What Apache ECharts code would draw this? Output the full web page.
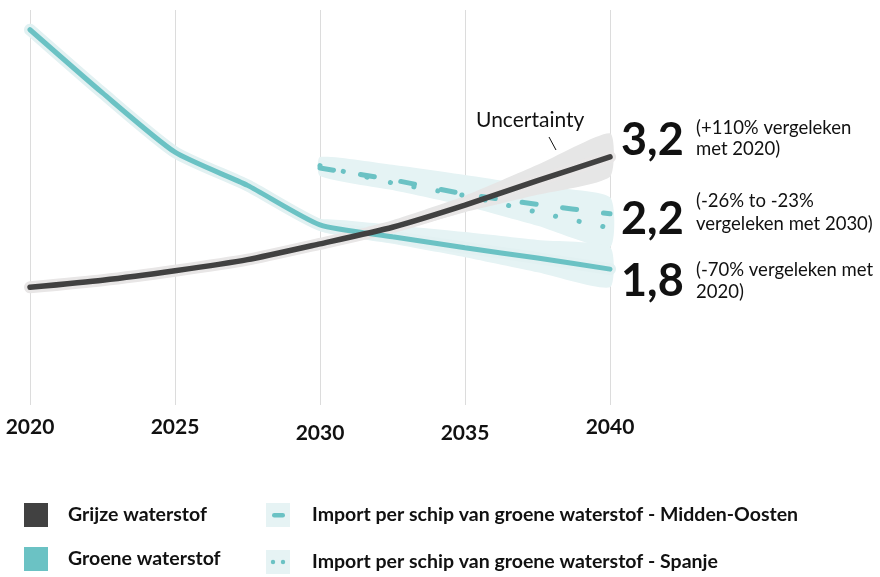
<!DOCTYPE html>
<html>
<head>
<meta charset="utf-8">
<script src="https://cdn.jsdelivr.net/npm/echarts@6/dist/echarts.min.js"></script>
<style>html,body{margin:0;padding:0;background:#fff;}#c{width:880px;height:577px;}</style>
</head>
<body>
<div id="c"></div>
<script>
// ---- data ----
var years = [2020, 2022.5, 2025, 2027.5, 2030, 2032.5, 2035, 2037.5, 2040];
var grijze = [1.49, 1.58, 1.70, 1.84, 2.04, 2.25, 2.53, 2.84, 3.14];
var groene = [4.75, 3.95, 3.20, 2.78, 2.28, 2.13, 1.99, 1.86, 1.72];
var bandYears = [2030, 2032.5, 2035, 2037.5, 2040];
var grijzeLow  = [1.99, 2.19, 2.44, 2.66, 2.89];
var grijzeHigh = [2.09, 2.34, 2.65, 3.04, 3.44];
var groeneLow  = [2.20, 2.04, 1.87, 1.68, 1.49];
var groeneHigh = [2.35, 2.28, 2.19, 2.09, 2.00];
var importLow  = [2.90, 2.72, 2.52, 2.27, 2.00];
var importHigh = [3.14, 3.04, 2.91, 2.77, 2.63];
var middenOosten = [3.00, 2.85, 2.67, 2.54, 2.42];
var spanje = [3.03, 2.81, 2.65, 2.44, 2.24];
var xTicks = [2020, 2025, 2030, 2035, 2040];
var names = ['Grijze waterstof', 'Groene waterstof',
  'Import per schip van groene waterstof - Midden-Oosten',
  'Import per schip van groene waterstof - Spanje'];

var DARK = '#414141', TEAL = '#6bc2c4', TEAL_L = '#e5f3f4', GREY_L = '#e6e6e6';
var FONT = 'Lato';

function pairs(xs, ys) { return xs.map(function (x, i) { return [x, ys[i]]; }); }

// band polygon drawn through the axis scales (custom series)
function band(id, lo, hi, color) {
  var data = bandYears.map(function (x, i) { return [x, lo[i], hi[i]]; });
  return {
    type: 'custom', name: id, silent: true, z: 1,
    data: data,
    encode: { x: 0, y: [1, 2] },
    renderItem: function (params, api) {
      if (params.dataIndex !== 0) return null;
      var top = [], bot = [];
      for (var i = 0; i < data.length; i++) {
        top.push(api.coord([data[i][0], data[i][2]]));
        bot.push(api.coord([data[i][0], data[i][1]]));
      }
      var pts = top.concat(bot.reverse());
      return { type: 'polygon', shape: { points: pts, smooth: 0.2 }, style: { fill: color } };
    }
  };
}

var midIcon = 'image://data:image/svg+xml;utf8,' + encodeURIComponent(
  '<svg xmlns="http://www.w3.org/2000/svg" width="24" height="24"><rect width="24" height="24" fill="#e6f3f4"/><rect x="6" y="10" width="13" height="4.5" rx="2.2" fill="#6bc2c4"/></svg>');
var spIcon = 'image://data:image/svg+xml;utf8,' + encodeURIComponent(
  '<svg xmlns="http://www.w3.org/2000/svg" width="24" height="24"><rect width="24" height="24" fill="#e6f3f4"/><circle cx="7" cy="12" r="2.2" fill="#6bc2c4"/><circle cx="17" cy="12" r="2.2" fill="#6bc2c4"/></svg>');

var SM = 0.2;
var series = [
  band('imp', importLow, importHigh, TEAL_L),
  band('gro', groeneLow, groeneHigh, TEAL_L),
  band('gri', grijzeLow, grijzeHigh, GREY_L),
  { type: 'line', name: 'groHalo', data: pairs(years, groene), smooth: SM, symbol: 'none',
    lineStyle: { color: '#e2f1f2', width: 12, cap: 'round' }, silent: true, z: 2 },
  { type: 'line', name: 'griHalo', data: pairs(years, grijze), smooth: SM, symbol: 'none',
    lineStyle: { color: '#e8e6e6', width: 12, cap: 'round' }, silent: true, z: 2 },
  { type: 'line', name: names[2], data: pairs(bandYears, middenOosten), smooth: SM, symbol: 'none',
    itemStyle: { color: TEAL },
    lineStyle: { color: TEAL, width: 5, type: [14, 27], cap: 'round' }, z: 3 },
  { type: 'line', name: names[3], data: pairs(bandYears, spanje), smooth: SM, symbol: 'none',
    itemStyle: { color: TEAL },
    lineStyle: { color: TEAL, width: 5, type: [0.1, 24], cap: 'round' }, z: 3 },
  { type: 'line', name: names[1], data: pairs(years, groene), smooth: SM, symbol: 'none',
    itemStyle: { color: TEAL },
    lineStyle: { color: TEAL, width: 5, cap: 'round' }, z: 4 },
  { type: 'line', name: names[0], data: pairs(years, grijze), smooth: SM, symbol: 'none',
    itemStyle: { color: DARK },
    lineStyle: { color: DARK, width: 5.5, cap: 'round' }, z: 5 }
];

function leg(name, icon, left, top, pad) {
  return { left: left, top: top, padding: 0, orient: 'horizontal', itemWidth: 24, itemHeight: 24,
    selectedMode: false,
    textStyle: { fontFamily: FONT, fontWeight: 'bold', fontSize: 19.5, color: '#111', padding: [0, 0, 0, pad] },
    data: [{ name: name, icon: icon }] };
}

var chart = echarts.init(document.getElementById('c'), null, { renderer: 'canvas' });
chart.setOption({
  animation: false,
  backgroundColor: '#fff',
  textStyle: { fontFamily: FONT },
  grid: { left: 30, right: 270, top: 10, bottom: 172 },
  xAxis: {
    type: 'value', min: 2020, max: 2040, interval: 5,
    axisLine: { show: false }, axisTick: { show: false },
    splitLine: { show: true, lineStyle: { color: '#dcdcdc', width: 1 } },
    axisLabel: {
      margin: 12, fontFamily: FONT, fontWeight: 'bold', fontSize: 21, color: '#111',
      formatter: function (v) {
        if (xTicks.indexOf(v) < 0) return '';
        return (v === 2030 || v === 2035) ? '{low|' + v + '}' : '{n|' + v + '}';
      },
      rich: {
        n: { fontFamily: FONT, fontWeight: 'bold', fontSize: 21, color: '#111' },
        low: { fontFamily: FONT, fontWeight: 'bold', fontSize: 21, color: '#111', padding: [6, 0, 0, 0] }
      }
    }
  },
  yAxis: { type: 'value', min: 0, max: 5, show: false, splitLine: { show: false } },
  legend: [
    leg(names[0], 'rect', 24, 503, 15),
    leg(names[1], 'rect', 24, 547, 15),
    leg(names[2], midIcon, 266, 503, 17),
    leg(names[3], spIcon, 266, 550, 17)
  ],
  graphic: [
    { type: 'text', left: 476, top: 110, style: { text: 'Uncertainty', font: '21px ' + FONT, fill: '#111' } },
    { type: 'line', shape: { x1: 549, y1: 137, x2: 556, y2: 150 }, style: { stroke: '#111', lineWidth: 1 } },
    { type: 'text', left: 621, top: 118, style: { text: '3,2', font: 'bold 45px ' + FONT, fill: '#111' } },
    { type: 'text', left: 621, top: 197, style: { text: '2,2', font: 'bold 45px ' + FONT, fill: '#111' } },
    { type: 'text', left: 621, top: 259, style: { text: '1,8', font: 'bold 45px ' + FONT, fill: '#111' } },
    { type: 'text', left: 696, top: 118, style: { text: '(+110% vergeleken\nmet 2020)', font: '18.5px ' + FONT, lineHeight: 21, fill: '#111' } },
    { type: 'text', left: 696, top: 190, style: { text: '(-26% to -23%\nvergeleken met 2030)', font: '18.5px ' + FONT, lineHeight: 23, fill: '#111' } },
    { type: 'text', left: 696, top: 259, style: { text: '(-70% vergeleken met\n2020)', font: '18.5px ' + FONT, lineHeight: 22, fill: '#111' } }
  ],
  series: series
});
</script>
</body>
</html>
